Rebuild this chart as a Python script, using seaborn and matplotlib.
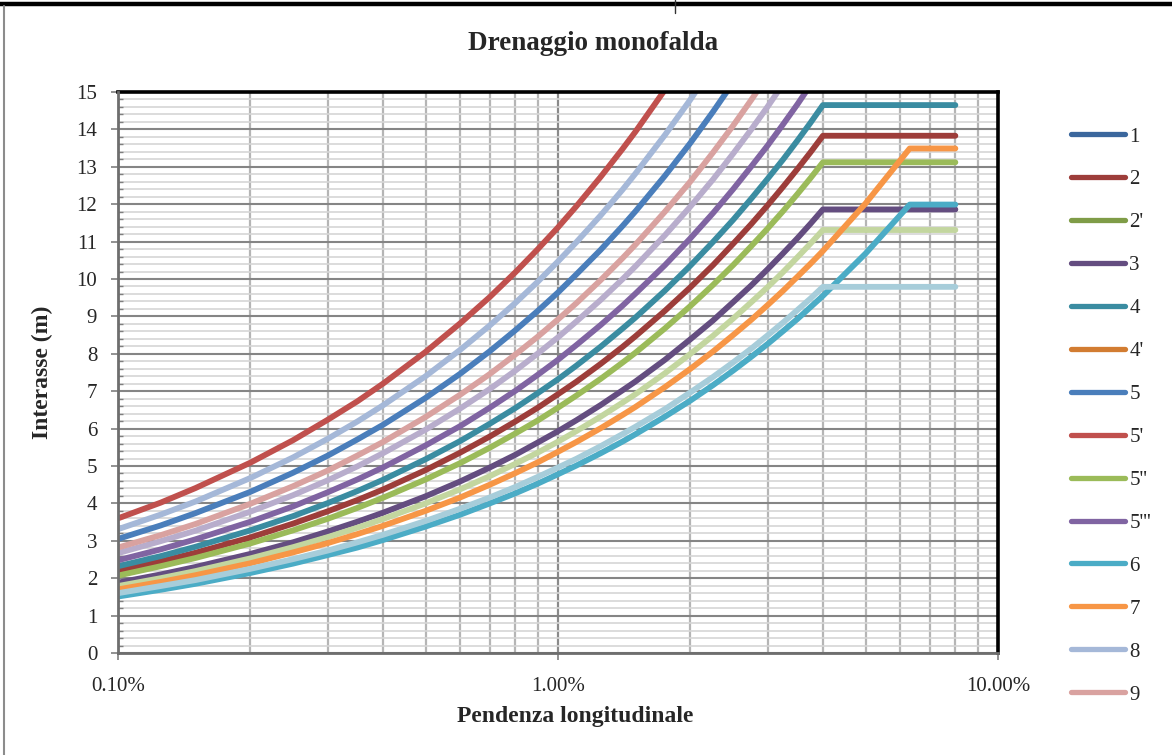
import numpy as np
import pandas as pd
import matplotlib
matplotlib.use("Agg")
import matplotlib.pyplot as plt
from matplotlib.lines import Line2D
from matplotlib.ticker import FixedLocator, MultipleLocator, FuncFormatter, NullFormatter
import seaborn as sns

nan = np.nan

# Pendenza longitudinale (%) at which each spacing curve is sampled
pendenza = [0.10, 0.125, 0.15, 0.20, 0.25, 0.30, 0.35, 0.40, 0.50, 0.60, 0.70,
            0.80, 0.90, 1.00, 1.10, 1.25, 1.40, 1.50, 1.75, 2.00, 2.25, 2.50,
            2.75, 3.00, 3.25, 3.50, 3.75, 4.00, 5.00, 6.30, 8.00]

# Interasse (m) per caso di drenaggio
s_2 = [2.19, 2.45, 2.68, 3.09, 3.46, 3.79, 4.09, 4.37, 4.89, 5.36, 5.79, 6.19, 6.56, 6.92, 7.25, 7.73,
       8.18, 8.47, 9.15, 9.78, 10.37, 10.94, 11.47, 11.98, 12.47, 12.94, 13.39, 13.83, 13.83, 13.83, 13.83]
s_3 = [1.88, 2.10, 2.30, 2.65, 2.96, 3.25, 3.51, 3.75, 4.19, 4.59, 4.96, 5.30, 5.63, 5.93, 6.22, 6.63,
       7.02, 7.26, 7.84, 8.39, 8.89, 9.38, 9.83, 10.27, 10.69, 11.09, 11.48, 11.86, 11.86, 11.86, 11.86]
s_4 = [2.32, 2.59, 2.84, 3.28, 3.66, 4.01, 4.33, 4.63, 5.18, 5.67, 6.13, 6.55, 6.95, 7.32, 7.68, 8.19,
       8.67, 8.97, 9.69, 10.36, 10.99, 11.58, 12.15, 12.69, 13.20, 13.70, 14.18, 14.65, 14.65, 14.65, 14.65]
s_5 = [3.05, 3.41, 3.74, 4.31, 4.82, 5.28, 5.71, 6.10, 6.82, 7.47, 8.07, 8.63, 9.15, 9.64, 10.12, 10.78,
       11.41, 11.81, 12.76, 13.64, 14.47, 15.25, nan, nan, nan, nan, nan, nan, nan, nan, nan]
s_5p = [3.60, 4.02, 4.41, 5.09, 5.69, 6.24, 6.73, 7.20, 8.05, 8.82, 9.52, 10.18, 10.80, 11.38, 11.94, 12.73,
        13.47, 13.94, 15.06, nan, nan, nan, nan, nan, nan, nan, nan, nan, nan, nan, nan]
s_5pp = [2.07, 2.32, 2.54, 2.93, 3.28, 3.59, 3.88, 4.15, 4.64, 5.08, 5.49, 5.87, 6.22, 6.56, 6.88, 7.33,
         7.76, 8.03, 8.68, 9.28, 9.84, 10.37, 10.88, 11.36, 11.82, 12.27, 12.70, 13.12, 13.12, 13.12, 13.12]
s_5ppp = [2.48, 2.77, 3.04, 3.51, 3.92, 4.30, 4.64, 4.96, 5.55, 6.07, 6.56, 7.01, 7.44, 7.84, 8.23, 8.77,
          9.28, 9.61, 10.37, 11.09, 11.76, 12.40, 13.01, 13.58, 14.14, 14.67, 15.19, nan, nan, nan, nan]
s_6 = [1.51, 1.69, 1.85, 2.14, 2.39, 2.62, 2.82, 3.02, 3.38, 3.70, 4.00, 4.27, 4.53, 4.78, 5.01, 5.34,
       5.65, 5.85, 6.32, 6.75, 7.16, 7.55, 7.92, 8.27, 8.61, 8.93, 9.25, 9.55, 10.68, 11.99, 11.99]
s_7 = [1.70, 1.90, 2.08, 2.40, 2.69, 2.94, 3.18, 3.40, 3.80, 4.16, 4.50, 4.81, 5.10, 5.38, 5.64, 6.01,
       6.36, 6.58, 7.11, 7.60, 8.06, 8.50, 8.91, 9.31, 9.69, 10.06, 10.41, 10.75, 12.02, 13.49, 13.49]
s_8 = [3.31, 3.70, 4.05, 4.68, 5.23, 5.73, 6.19, 6.62, 7.40, 8.11, 8.76, 9.36, 9.93, 10.47, 10.98, 11.70,
       12.38, 12.82, 13.85, 14.80, 15.70, nan, nan, nan, nan, nan, nan, nan, nan, nan, nan]
s_9 = [2.82, 3.15, 3.45, 3.99, 4.46, 4.88, 5.28, 5.64, 6.31, 6.91, 7.46, 7.98, 8.46, 8.92, 9.35, 9.97,
       10.55, 10.92, 11.80, 12.61, 13.38, 14.10, 14.79, 15.45, nan, nan, nan, nan, nan, nan, nan]
s_10 = [1.79, 2.00, 2.19, 2.53, 2.83, 3.10, 3.35, 3.58, 4.00, 4.38, 4.73, 5.06, 5.36, 5.65, 5.93, 6.32,
        6.69, 6.92, 7.48, 8.00, 8.48, 8.94, 9.38, 9.79, 10.19, 10.58, 10.95, 11.31, 11.31, 11.31, 11.31]
s_11 = [2.67, 2.99, 3.27, 3.78, 4.22, 4.62, 4.99, 5.34, 5.97, 6.54, 7.06, 7.55, 8.01, 8.44, 8.86, 9.44,
        9.99, 10.34, 11.17, 11.94, 12.66, 13.35, 14.00, 14.62, 15.22, nan, nan, nan, nan, nan, nan]
s_12 = [1.60, 1.79, 1.95, 2.25, 2.51, 2.74, 2.96, 3.16, 3.53, 3.86, 4.16, 4.44, 4.71, 4.96, 5.19, 5.53,
        5.85, 6.05, 6.52, 6.97, 7.38, 7.77, 8.14, 8.50, 8.84, 9.17, 9.48, 9.79, 9.79, 9.79, 9.79]

# drawing order: later curves sit on top
curves = {
    "2": s_2, "3": s_3, "4": s_4, "5": s_5, "5'": s_5p, "5''": s_5pp,
    "5'''": s_5ppp, "10": s_10, "11": s_11, "6": s_6, "7": s_7,
    "8": s_8, "9": s_9, "12": s_12,
}

colors = {
    "1": "#3b679d", "2": "#9d3d3a", "2'": "#7f9c47", "3": "#644d80",
    "4": "#3a8ca1", "4'": "#d27c31", "5": "#4a7ebb", "5'": "#c0504d",
    "5''": "#9bbb59", "5'''": "#8064a2", "6": "#4bacc6", "7": "#f79646",
    "8": "#a5b8d8", "9": "#d9a2a0", "10": "#c3d69f", "11": "#b8adcc",
    "12": "#a7cdda",
}

legend_labels = ["1", "2", "2'", "3", "4", "4'", "5", "5'", "5''", "5'''",
                 "6", "7", "8", "9"]

rows = []
for name, vals in curves.items():
    for x, y in zip(pendenza, vals):
        if not np.isnan(y):
            rows.append((name, x, y))
df = pd.DataFrame(rows, columns=["serie", "pendenza", "interasse"])

sns.set_style("white")
plt.rcParams["font.family"] = ["Liberation Serif", "DejaVu Serif"]

fig = plt.figure(figsize=(11.72, 7.55), dpi=100)
ax = fig.add_axes([118 / 1172, 1 - 653 / 755, 880 / 1172, 561 / 755])

ax.set_xscale("log")
ax.set_xlim(0.1, 10)
ax.set_ylim(0, 15)

# grid
ax.set_axisbelow(True)
ax.xaxis.set_major_locator(FixedLocator([0.1, 1, 10]))
minor_x = [m * d for d in (0.1, 1) for m in range(2, 10)]
ax.xaxis.set_minor_locator(FixedLocator(minor_x))
ax.xaxis.set_minor_formatter(NullFormatter())
ax.xaxis.set_major_formatter(FuncFormatter(lambda v, p: f"{v:.2f}%"))
ax.yaxis.set_major_locator(MultipleLocator(1))
ax.yaxis.set_minor_locator(MultipleLocator(0.2))

ax.grid(which="major", axis="y", color="#858585", lw=1.5)
ax.grid(which="minor", axis="y", color="#d6d6d6", lw=1.2)
ax.grid(which="major", axis="x", color="#8a8a8a", lw=1.6)
ax.grid(which="minor", axis="x", color="#b5b5b5", lw=1.6)

sns.lineplot(data=df, x="pendenza", y="interasse", hue="serie",
             hue_order=list(curves.keys()), palette=colors,
             estimator=None, sort=False, legend=False,
             linewidth=4.2, solid_capstyle="round", solid_joinstyle="round",
             ax=ax)

for side in ("top", "right"):
    ax.spines[side].set_color("black")
    ax.spines[side].set_linewidth(2.6)
for side in ("left", "bottom"):
    ax.spines[side].set_color("#6e6e6e")
    ax.spines[side].set_linewidth(2.0)
    ax.spines[side].set_zorder(5)

ax.tick_params(axis="x", which="major", direction="out", length=5, width=1.2,
               color="#7f7f7f", pad=12, labelsize=15, bottom=True)
ax.tick_params(axis="x", which="minor", length=0)
ax.tick_params(axis="y", which="major", direction="out", length=5, width=1.2,
               color="#7f7f7f", pad=10, labelsize=15, left=True)
ax.tick_params(axis="y", which="minor", direction="in", length=3.5, width=1.0,
               color="#7f7f7f", left=True)

ax.set_xlabel("Pendenza longitudinale", fontsize=17, fontweight="bold")
ax.set_ylabel("Interasse (m)", fontsize=17, fontweight="bold")
ax.xaxis.set_label_coords(0.519, -0.095)
ax.yaxis.set_label_coords(-0.074, 0.5)

fig.text(593 / 1172, 1 - 43 / 755, "Drenaggio monofalda", ha="center",
         va="center", fontsize=19.5, fontweight="bold")

handles = [Line2D([], [], color=colors[k], lw=3.8, solid_capstyle="round")
           for k in legend_labels]
fig.legend(handles, legend_labels, loc="upper left",
           bbox_to_anchor=(1071 / 1172, 1 - 127 / 755), frameon=False,
           fontsize=15, handlelength=2.6, handletextpad=0.2,
           labelspacing=1.12, borderpad=0, borderaxespad=0)

# page frame around the chart
fig.add_artist(Line2D([0, 1], [1 - 4 / 755, 1 - 4 / 755], color="black",
                      lw=3.2, transform=fig.transFigure))
fig.add_artist(Line2D([3.5 / 1172, 3.5 / 1172], [0, 1 - 6 / 755], color="#8c8c8c",
                      lw=1.5, transform=fig.transFigure))
fig.add_artist(Line2D([675 / 1172, 675 / 1172], [1 - 13 / 755, 1], color="#333333",
                      lw=1.0, transform=fig.transFigure))

fig.savefig("out.png", dpi=100)
